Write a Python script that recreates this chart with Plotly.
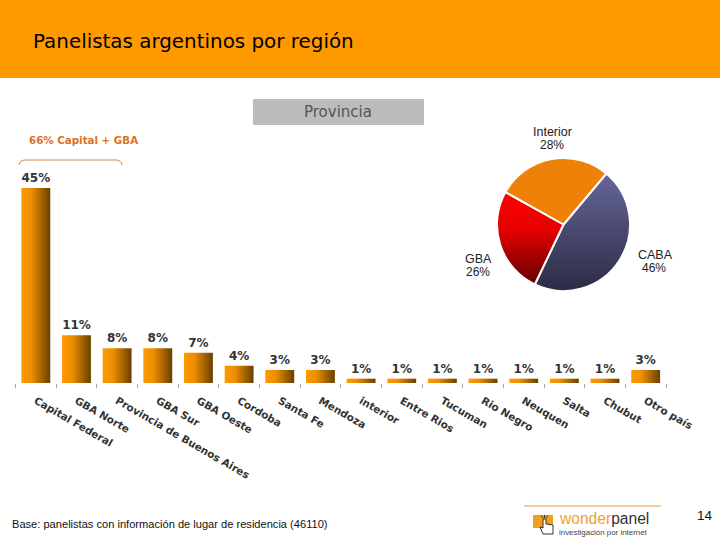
import plotly.graph_objects as go

regions = ["Capital Federal", "GBA Norte", "Provincia de Buenos Aires", "GBA Sur", "GBA Oeste",
           "Cordoba", "Santa Fe", "Mendoza", "interior", "Entre Rios", "Tucuman", "Rio Negro",
           "Neuquen", "Salta", "Chubut", "Otro país"]
shares = [45, 11, 8, 8, 7, 4, 3, 3, 1, 1, 1, 1, 1, 1, 1, 3]
pie_labels = ["CABA", "GBA", "Interior"]
pie_values = [46, 26, 28]

W, H = 720, 540
def px(x): return x / W
def py(y): return 1 - y / H

fig = go.Figure()
fig.add_trace(go.Bar(
    x=regions, y=shares, width=0.71,
    marker=dict(color="#c67a00", line=dict(width=0)),
    text=[f"{v}%" for v in shares], textposition="outside", cliponaxis=False,
    textfont=dict(family="DejaVu Sans", size=12, color="#333333", weight="bold"),
    textangle=0, showlegend=False, hoverinfo="skip",
))
fig.add_trace(go.Pie(
    labels=pie_labels, values=pie_values, sort=False, direction="clockwise", rotation=40,
    textinfo="none", showlegend=False, hoverinfo="skip",
    marker=dict(colors=["#4a4a72", "#c00000", "#ee8208"], line=dict(color="white", width=2)),
    domain=dict(x=[px(497), px(630)], y=[py(291), py(158)]),
))

def note(text, x, y, size, color="#222222", family="Liberation Sans", xanchor="center", yanchor="middle", **kw):
    return dict(text=text, x=px(x), y=py(y), xref="paper", yref="paper", showarrow=False,
                xanchor=xanchor, yanchor=yanchor, align="center",
                font=dict(family=family, size=size, color=color, **kw))

annotations = [
    note("Provincia", 338, 112, 15, "#555555", "DejaVu Sans"),
    note("66% Capital + GBA", 27, 140, 10.3, "#e0701c", "DejaVu Sans", xanchor="left", weight="bold"),
    note("Interior", 552, 132, 12.5),
    note("28%", 552, 145, 12),
    note("CABA", 655, 255, 12.5),
    note("46%", 654, 268, 12),
    note("GBA", 478, 259, 12.5),
    note("26%", 478, 272, 12),
    note("Base: panelistas con información de lugar de residencia (46110)", 10, 524, 11.1, "#111111", xanchor="left"),
    note("14", 705, 515, 13.5, "#111111"),
    note('<span style="color:#f0a030">wonder</span><span style="color:#333333">panel</span>', 557, 518.5, 15.6, xanchor="left"),
    note("investigación por internet", 557, 532, 7.9, "#444444", xanchor="left"),
]

def logo_line(x0, y0, x1, y1):
    return dict(type="line", xref="paper", yref="paper", x0=px(x0), x1=px(x1), y0=py(y0), y1=py(y1),
                line=dict(color="#333333", width=1))

shapes = [
    dict(type="rect", xref="paper", yref="paper", x0=0, x1=1, y0=py(78), y1=1,
         fillcolor="#ff9900", line_width=0, layer="below"),
    dict(type="rect", xref="paper", yref="paper", x0=px(253), x1=px(424), y0=py(125), y1=py(99),
         fillcolor="#bcbcbc", line_width=0, layer="below"),
    dict(type="path", xref="paper", yref="paper",
         path=(f"M {px(19)} {py(165)} Q {px(20)} {py(160)} {px(25)} {py(160)} "
               f"L {px(116)} {py(160)} Q {px(121)} {py(160)} {px(122)} {py(165)}"),
         line=dict(color="#c98a50", width=1), layer="below"),
    dict(type="line", xref="paper", yref="paper", x0=px(524), x1=px(661), y0=py(506), y1=py(506),
         line=dict(color="#e0a040", width=1)),
    dict(type="rect", xref="paper", yref="paper", x0=px(533), x1=px(553), y0=py(528), y1=py(515),
         fillcolor="#f0a020", line_width=0),
    dict(type="path", xref="paper", yref="paper",
         path=(f"M {px(543)} {py(534)} L {px(540)} {py(527)} L {px(543)} {py(528)} L {px(543)} {py(519)} "
               f"L {px(546)} {py(519)} L {px(546)} {py(524)} L {px(553)} {py(525)} L {px(553)} {py(534)} Z"),
         fillcolor="white", line=dict(color="#333333", width=1)),
    logo_line(544.5, 515, 544.5, 518),
    logo_line(541, 515.5, 543, 518),
    logo_line(548, 515.5, 546, 518),
]

fig.update_layout(
    width=W, height=H, margin=dict(l=0, r=0, t=0, b=0),
    paper_bgcolor="white", plot_bgcolor="white", bargap=0.29,
    title=dict(text="Panelistas argentinos por región", x=px(33), y=py(41), xref="paper", yref="paper",
               xanchor="left", yanchor="middle", font=dict(family="DejaVu Sans", size=19.9, color="black")),
    xaxis=dict(domain=[px(15.5), px(666)], type="category", tickson="boundaries", ticks="outside",
               ticklen=4, tickcolor="#aaaaaa", tickwidth=1, tickangle=30, showline=False, showgrid=False,
               zeroline=False, automargin=False, ticklabelstandoff=9,
               tickfont=dict(family="DejaVu Sans", size=10.4, color="#333333", weight="bold")),
    yaxis=dict(domain=[py(383), py(165)], range=[0, 50.3], visible=False),
    annotations=annotations, shapes=shapes,
)

post = """
document.body.style.margin = '0';
var gd = document.getElementById('{plot_id}');
var svg = gd.querySelector('.main-svg');
var NS = 'http://www.w3.org/2000/svg';
var defs = svg.querySelector('defs');
function grad(id, x2, y2, stops) {
  var g = document.createElementNS(NS, 'linearGradient');
  g.setAttribute('id', id); g.setAttribute('x1', '0'); g.setAttribute('y1', '0');
  g.setAttribute('x2', x2); g.setAttribute('y2', y2);
  stops.forEach(function (s) {
    var e = document.createElementNS(NS, 'stop');
    e.setAttribute('offset', s[0]); e.setAttribute('stop-color', s[1]); g.appendChild(e);
  });
  defs.appendChild(g);
}
grad('barGrad', '1', '0', [[0, '#ff9900'], [0.35, '#ee8e00'], [1, '#684000']]);
grad('cabaGrad', '0', '1', [[0, '#666699'], [1, '#2b2b45']]);
grad('gbaGrad', '0', '1', [[0, '#ff0000'], [0.4, '#e80000'], [1, '#640000']]);
gd.querySelectorAll('.barlayer .point path').forEach(function (p) { p.style.fill = 'url(#barGrad)'; });
var slices = gd.querySelectorAll('.pielayer .slice path.surface');
if (slices[0]) slices[0].style.fill = 'url(#cabaGrad)';
if (slices[1]) slices[1].style.fill = 'url(#gbaGrad)';
"""
fig.write_html("out.html", config=dict(displayModeBar=False), post_script=post)
